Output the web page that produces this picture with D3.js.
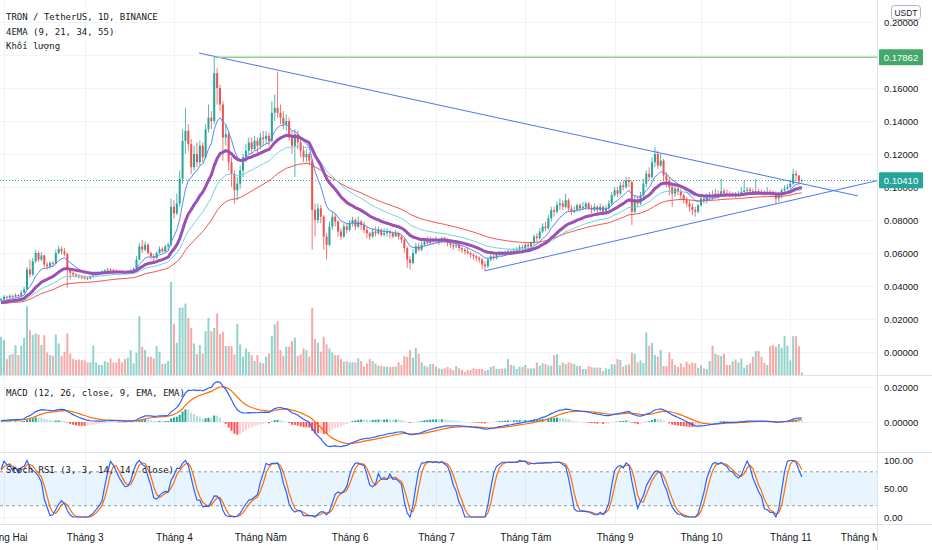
<!DOCTYPE html>
<html>
<head>
<meta charset="utf-8">
<title>TRON / TetherUS 1D</title>
<script src="https://cdnjs.cloudflare.com/ajax/libs/d3/7.8.5/d3.min.js"></script>
<style>
  body { margin: 0; background: #fff; }
  svg { display: block; }
</style>
</head>
<body>
<div id="chart"></div>
<script>
// daily candles TRX/USDT (Binance), first candle is 31 Jan 2021
var firstDay = Date.UTC(2021, 0, 31);
var DAY = 864e5;

var closes = [
  .0320,.0335,.0330,.0340,.0335,.0345,.0340,.0360,.0380,.0500,
  .0470,.0550,.0600,.0560,.0585,.0530,.0520,.0540,.0535,.0600,
  .0625,.0610,.0595,.0500,.0480,.0470,.0462,.0456,.0452,.0448,
  .0445,.0455,.0465,.0472,.0480,.0488,.0495,.0500,.0498,.0492,
  .0488,.0485,.0483,.0480,.0488,.0495,.0505,.0560,.0640,.0620,
  .0650,.0600,.0580,.0570,.0600,.0625,.0610,.0640,.0650,.0880,
  .0840,.0900,.1050,.1280,.1340,.1260,.1120,.1200,.1150,.1250,
  .1180,.1350,.1420,.1400,.1690,.1600,.1500,.1300,.1320,.1150,
  .1080,.0980,.1020,.1100,.1180,.1220,.1270,.1230,.1280,.1250,
  .1300,.1290,.1310,.1280,.1450,.1480,.1450,.1420,.1380,.1400,
  .1300,.1250,.1320,.1270,.1220,.1180,.1200,.1160,.0860,.0800,
  .0870,.0820,.0700,.0650,.0760,.0820,.0790,.0730,.0700,.0760,
  .0740,.0780,.0800,.0760,.0790,.0770,.0740,.0720,.0700,.0730,
  .0720,.0740,.0710,.0720,.0730,.0720,.0700,.0720,.0700,.0680,
  .0630,.0560,.0540,.0600,.0640,.0620,.0650,.0670,.0660,.0680,
  .0670,.0680,.0670,.0690,.0670,.0660,.0650,.0640,.0650,.0630,
  .0620,.0610,.0600,.0590,.0580,.0570,.0560,.0530,.0520,.0560,
  .0580,.0570,.0590,.0600,.0590,.0600,.0610,.0600,.0615,.0620,
  .0635,.0630,.0650,.0640,.0660,.0700,.0690,.0730,.0760,.0750,
  .0810,.0860,.0850,.0890,.0900,.0880,.0920,.0870,.0850,.0860,
  .0890,.0870,.0880,.0900,.0870,.0860,.0880,.0860,.0880,.0850,
  .0870,.0900,.0950,.0980,.0960,.1010,.1000,.1040,.1030,.0850,
  .0920,.0900,.0950,.1020,.1080,.1060,.1150,.1200,.1130,.1160,
  .1070,.1040,.1000,.0960,.0990,.0970,.0950,.0920,.0900,.0880,
  .0860,.0850,.0890,.0930,.0920,.0940,.0950,.0940,.0960,.0950,
  .0975,.0962,.0955,.0950,.0956,.0948,.0958,.0970,.0978,.0985,
  .0975,.0968,.0975,.0966,.0962,.0958,.0964,.0958,.0955,.0930,
  .0950,.0980,.0990,.1000,.1020,.1080,.1070,.1035,.1041
];

var highs = [
  .0330,.0345,.0342,.0350,.0348,.0355,.0352,.0375,.0395,.0515,
  .0560,.0570,.0620,.0610,.0605,.0590,.0545,.0550,.0550,.0620,
  .0645,.0640,.0630,.0600,.0510,.0490,.0480,.0472,.0468,.0462,
  .0458,.0462,.0472,.0480,.0488,.0495,.0502,.0510,.0508,.0504,
  .0500,.0496,.0492,.0490,.0495,.0502,.0512,.0580,.0660,.0680,
  .0670,.0660,.0610,.0595,.0610,.0640,.0635,.0650,.0665,.0930,
  .0920,.0960,.1100,.1350,.1480,.1380,.1290,.1250,.1270,.1280,
  .1270,.1380,.1500,.1460,.17862,.1720,.1620,.1520,.1380,.1340,
  .1180,.1100,.1060,.1130,.1200,.1260,.1300,.1300,.1310,.1300,
  .1330,.1340,.1340,.1330,.1520,.1560,.1700,.1500,.1460,.1440,
  .1420,.1340,.1350,.1340,.1290,.1250,.1230,.1210,.1170,.0900,
  .0900,.0890,.0830,.0720,.0790,.0850,.0840,.0800,.0750,.0780,
  .0780,.0800,.0820,.0810,.0820,.0800,.0790,.0760,.0730,.0750,
  .0760,.0760,.0750,.0750,.0750,.0740,.0730,.0740,.0730,.0710,
  .0690,.0640,.0580,.0620,.0660,.0660,.0670,.0690,.0700,.0700,
  .0690,.0700,.0690,.0700,.0700,.0690,.0670,.0670,.0670,.0660,
  .0640,.0630,.0630,.0610,.0600,.0590,.0580,.0570,.0550,.0570,
  .0600,.0590,.0600,.0610,.0610,.0615,.0620,.0620,.0630,.0635,
  .0650,.0650,.0660,.0660,.0670,.0710,.0720,.0750,.0780,.0790,
  .0830,.0880,.0880,.0910,.0930,.0920,.0960,.0930,.0890,.0880,
  .0900,.0900,.0910,.0910,.0910,.0890,.0900,.0890,.0900,.0890,
  .0890,.0920,.0970,.1000,.1000,.1030,.1040,.1060,.1060,.1040,
  .0950,.0950,.0970,.1050,.1100,.1120,.1180,.1240,.1220,.1200,
  .1170,.1090,.1060,.1020,.1010,.1010,.0990,.0960,.0940,.0920,
  .0900,.0880,.0900,.0950,.0950,.0960,.0970,.0980,.0990,.0980,
  .1050,.0990,.0985,.0975,.0970,.0970,.0975,.1000,.1040,.1000,
  .1000,.0990,.1050,.0990,.0985,.0980,.1000,.0985,.0980,.0975,
  .0970,.0990,.1010,.1020,.1040,.1110,.1100,.1070,.1050
];

var lows = [
  .0305,.0315,.0320,.0325,.0325,.0330,.0330,.0335,.0355,.0375,
  .0450,.0460,.0540,.0545,.0550,.0515,.0500,.0505,.0515,.0530,
  .0590,.0590,.0580,.0390,.0440,.0455,.0450,.0445,.0442,.0440,
  .0436,.0440,.0450,.0460,.0466,.0474,.0482,.0490,.0488,.0485,
  .0480,.0478,.0476,.0472,.0476,.0482,.0490,.0505,.0555,.0600,
  .0610,.0590,.0560,.0550,.0560,.0595,.0600,.0605,.0615,.0640,
  .0810,.0830,.0880,.1020,.1200,.1220,.1080,.1100,.1120,.1130,
  .1150,.1170,.1330,.1350,.1380,.1500,.1460,.1160,.1250,.1100,
  .1000,.0900,.0920,.0990,.1060,.1150,.1200,.1200,.1220,.1200,
  .1230,.1250,.1260,.1250,.1270,.1400,.1420,.1380,.1350,.1340,
  .1280,.1200,.1060,.1230,.1180,.1150,.1150,.1130,.0620,.0700,
  .0780,.0780,.0620,.0560,.0640,.0740,.0760,.0700,.0680,.0690,
  .0720,.0730,.0760,.0740,.0750,.0740,.0720,.0690,.0680,.0690,
  .0700,.0710,.0700,.0700,.0700,.0690,.0690,.0700,.0680,.0660,
  .0600,.0510,.0500,.0530,.0590,.0610,.0610,.0640,.0650,.0650,
  .0650,.0660,.0650,.0660,.0660,.0640,.0630,.0620,.0630,.0610,
  .0600,.0590,.0590,.0570,.0560,.0550,.0540,.0500,.0495,.0510,
  .0550,.0555,.0560,.0580,.0575,.0585,.0590,.0590,.0595,.0600,
  .0610,.0615,.0620,.0630,.0635,.0650,.0670,.0680,.0720,.0730,
  .0740,.0790,.0820,.0840,.0860,.0860,.0870,.0850,.0830,.0840,
  .0850,.0850,.0860,.0860,.0860,.0840,.0850,.0840,.0850,.0830,
  .0840,.0860,.0890,.0940,.0940,.0950,.0980,.0990,.1000,.0770,
  .0840,.0880,.0890,.0940,.1000,.1040,.1050,.1120,.1110,.1120,
  .1040,.1000,.0950,.0880,.0940,.0950,.0920,.0900,.0880,.0850,
  .0830,.0820,.0840,.0880,.0900,.0900,.0920,.0920,.0930,.0930,
  .0945,.0950,.0945,.0940,.0940,.0935,.0940,.0950,.0960,.0965,
  .0960,.0955,.0960,.0955,.0950,.0945,.0950,.0945,.0940,.0900,
  .0910,.0930,.0970,.0980,.0990,.1010,.1040,.1020,.1030
];

// volume in 10M TRX
var volumes = [
  115,105,48,60,63,90,60,88,112,207,
  135,120,125,122,90,120,68,60,58,122,
  95,58,70,125,65,48,45,47,45,44,
  38,38,88,38,30,30,42,38,50,38,
  38,50,38,48,52,75,35,67,177,85,
  75,55,55,50,87,70,33,35,42,280,
  153,97,203,203,215,172,142,95,63,90,
  65,132,172,132,142,185,123,130,87,87,
  87,62,153,92,55,80,70,60,42,60,
  38,35,55,65,117,152,162,75,57,85,
  85,102,113,57,62,80,75,55,203,108,
  97,70,115,92,80,68,60,60,48,40,
  42,38,38,38,50,42,25,35,48,42,
  35,28,28,25,25,25,25,25,38,30,
  57,55,75,52,82,64,38,28,25,33,
  33,25,20,18,20,24,20,15,27,20,
  15,10,15,15,20,18,18,18,13,15,
  24,27,18,18,20,20,48,30,28,18,
  25,24,30,20,20,20,38,28,35,33,
  29,28,60,62,30,38,33,38,35,33,
  27,27,18,18,27,24,22,22,22,12,
  20,18,32,32,48,45,25,30,32,67,
  64,38,44,36,128,88,96,60,55,75,
  27,27,68,48,30,24,35,24,40,33,
  38,35,22,29,20,18,42,88,64,60,
  57,64,30,30,42,47,38,50,22,30,
  35,55,72,72,55,37,30,87,90,85,
  93,82,117,88,44,117,117,87,8
];

// closes before the visible range (Dec 2020 - Jan 2021), only to warm up the indicators
var warmupCloses = [
  .0310,.0305,.0300,.0295,.0300,.0292,.0290,.0288,.0292,.0295,
  .0300,.0305,.0310,.0308,.0305,.0300,.0290,.0275,.0265,.0260,
  .0262,.0265,.0268,.0270,.0268,.0272,.0280,.0285,.0275,.0270,
  .0275,.0290,.0300,.0295,.0285,.0280,.0285,.0290,.0280,.0275,
  .0270,.0265,.0272,.0278,.0285,.0290,.0288,.0292,.0300,.0295,
  .0290,.0295,.0300,.0305,.0300,.0298,.0302,.0310,.0305,.0312
];

var monthLabels = ["Tháng Hai", "Tháng 3", "Tháng 4", "Tháng Năm", "Tháng 6", "Tháng 7",
  "Tháng Tám", "Tháng 9", "Tháng 10", "Tháng 11", "Tháng Mười Hai"];
var priceTicks = [0, .02, .04, .06, .08, .10, .12, .14, .16, .18, .20];
var priceLabels = [0, .02, .04, .06, .08, .10, .12, .14, .16, .20];   // 0.18 sits under the line badge
var macdTicks = [0, .02];
var stochTicks = [0, 50, 100];
var emaLengths = [9, 21, 34, 55];
var legendLines = ["TRON / TetherUS, 1D, BINANCE", "4EMA (9, 21, 34, 55)", "Khối lượng"];

// drawn lines: [day index from 31 Jan, price]
var upperTrend = [[68.7, .1812], [297.5, .0946]];
var lowerTrend = [[167.7, .0491], [323.2, .1115]];
var resistance = { from: 74, price: .17862 };

// ---------- indicators ----------
function ema(vals, n) {
  var k = 2 / (n + 1), prev, out = [];
  vals.forEach(function(v, i) {
    prev = i === 0 ? v : v * k + prev * (1 - k);
    out.push(prev);
  });
  return out;
}
function sma(vals, n) {
  return vals.map(function(v, i) {
    return d3.mean(vals.slice(Math.max(0, i - n + 1), i + 1));
  });
}
function rsi(vals, n) {
  var out = [50], up = 0, down = 0;
  for (var i = 1; i < vals.length; i++) {
    var ch = vals[i] - vals[i - 1];
    var u = Math.max(ch, 0), d = Math.max(-ch, 0);
    if (i <= n) { up += u / n; down += d / n; }
    else { up = (up * (n - 1) + u) / n; down = (down * (n - 1) + d) / n; }
    out.push(down === 0 ? 100 : 100 - 100 / (1 + up / down));
  }
  return out;
}
function stoch(vals, n) {
  return vals.map(function(v, i) {
    var w = vals.slice(Math.max(0, i - n + 1), i + 1);
    var lo = d3.min(w), hi = d3.max(w);
    return hi === lo ? 50 : 100 * (v - lo) / (hi - lo);
  });
}

var allCloses = warmupCloses.concat(closes);
var skip = warmupCloses.length;
var emas = emaLengths.map(function(n) { return ema(allCloses, n).slice(skip); });

var macdAll = d3.zip(ema(allCloses, 12), ema(allCloses, 26)).map(function(p) { return p[0] - p[1]; });
var signalAll = ema(macdAll, 9);
var macd = macdAll.slice(skip);
var signal = signalAll.slice(skip);
var hist = macdAll.map(function(m, i) { return m - signalAll[i]; });

var kAll = sma(stoch(rsi(allCloses, 14), 14), 3);
var dAll = sma(kAll, 3);
var stochK = kAll.slice(skip);
var stochD = dAll.slice(skip);

var candles = closes.map(function(c, i) {
  var o = i === 0 ? warmupCloses[skip - 1] : closes[i - 1];
  return {
    date: new Date(firstDay + i * DAY),
    open: o, close: c,
    high: Math.max(highs[i], o, c),
    low: Math.min(lows[i], o, c),
    volume: volumes[i]
  };
});

// ---------- layout ----------
var svgWidth = 932, svgHeight = 550;
var plotRight = 877;
var pricePane = { top: 0, bottom: 375 };
var macdPane = { top: 376, bottom: 452 };
var stochPane = { top: 453, bottom: 524 };

var green = "#26a69a", red = "#ef5350";
var emaColors = ["#5a88f2", "#9c4fb5", "#6fd3da", "#f0544f"];
var emaWidths = [1, 3, 1, 1];
var lineBlue = "#4a78f0";
var sansFont = "'Liberation Sans', Arial, sans-serif";

var svg = d3.select("#chart")
  .append("svg")
  .attr("width", svgWidth)
  .attr("height", svgHeight)
  .style("background", "#fff");

var x = d3.scaleUtc()
  .domain([new Date(firstDay - 0.38 * DAY), new Date(firstDay + 304.1 * DAY)])
  .range([0, plotRight]);
var y = d3.scaleLinear().domain([0, 0.2]).range([352, 22]);
var yVol = d3.scaleLinear().domain([0, d3.max(volumes)]).range([pricePane.bottom, 282]);
var yMacd = d3.scaleLinear().domain([0, 0.02]).range([422, 387]);
var yStoch = d3.scaleLinear().domain([0, 100]).range([517, 460.5]);

function dayDate(d) { return new Date(firstDay + d * DAY); }

var defs = svg.append("defs");
function clip(id, top, bottom) {
  defs.append("clipPath").attr("id", id)
    .append("rect").attr("x", 0).attr("y", top).attr("width", plotRight).attr("height", bottom - top);
  return "url(#" + id + ")";
}
var clipPrice = clip("clip-price", pricePane.top, pricePane.bottom);
var clipMacd = clip("clip-macd", macdPane.top, macdPane.bottom);
var clipStoch = clip("clip-stoch", stochPane.top, stochPane.bottom);
var clipTime = clip("clip-time", stochPane.bottom, svgHeight);

var months = d3.utcMonth.range(new Date(Date.UTC(2021, 1, 1)), new Date(Date.UTC(2021, 11, 2)));

// ---------- grid ----------
var grid = svg.append("g").attr("stroke", "#f0f3fa").attr("stroke-width", 1);
grid.selectAll(".vgrid").data(months).enter().append("line")
  .attr("x1", function(d) { return Math.round(x(d)) + 0.5; })
  .attr("x2", function(d) { return Math.round(x(d)) + 0.5; })
  .attr("y1", 0).attr("y2", stochPane.bottom);
grid.selectAll(".pgrid").data(priceTicks).enter().append("line")
  .attr("x1", 0).attr("x2", plotRight)
  .attr("y1", function(d) { return Math.round(y(d)) + 0.5; })
  .attr("y2", function(d) { return Math.round(y(d)) + 0.5; });
grid.selectAll(".mgrid").data(macdTicks).enter().append("line")
  .attr("x1", 0).attr("x2", plotRight)
  .attr("y1", function(d) { return Math.round(yMacd(d)) + 0.5; })
  .attr("y2", function(d) { return Math.round(yMacd(d)) + 0.5; });
grid.selectAll(".sgrid").data([0, 100]).enter().append("line")
  .attr("x1", 0).attr("x2", plotRight)
  .attr("y1", function(d) { return Math.round(yStoch(d)) + 0.5; })
  .attr("y2", function(d) { return Math.round(yStoch(d)) + 0.5; });

// ---------- price pane ----------
var priceG = svg.append("g").attr("clip-path", clipPrice);

// volume
priceG.selectAll(".vol").data(candles).enter().append("rect")
  .attr("x", function(d) { return x(d.date) - 1; })
  .attr("width", 2)
  .attr("y", function(d) { return yVol(d.volume); })
  .attr("height", function(d) { return yVol(0) - yVol(d.volume); })
  .attr("fill", function(d) { return d.close >= d.open ? green : red; })
  .attr("opacity", 0.5);

// current price dotted line
var last = candles[candles.length - 1];
priceG.append("line")
  .attr("x1", 0).attr("x2", plotRight)
  .attr("y1", Math.round(y(last.close)) + 0.5).attr("y2", Math.round(y(last.close)) + 0.5)
  .attr("stroke", green).attr("stroke-dasharray", "1,2");

// candles
var candleG = priceG.selectAll(".candle").data(candles).enter().append("g")
  .attr("fill", function(d) { return d.close >= d.open ? green : red; })
  .attr("stroke", function(d) { return d.close >= d.open ? green : red; });
candleG.append("line")
  .attr("x1", function(d) { return x(d.date); })
  .attr("x2", function(d) { return x(d.date); })
  .attr("y1", function(d) { return y(d.high); })
  .attr("y2", function(d) { return y(d.low); })
  .attr("stroke-width", 0.8);
candleG.append("rect")
  .attr("x", function(d) { return x(d.date) - 1; })
  .attr("width", 2)
  .attr("y", function(d) { return y(Math.max(d.open, d.close)); })
  .attr("height", function(d) { return Math.max(1, Math.abs(y(d.open) - y(d.close))); })
  .attr("stroke", "none");

// EMAs, slowest drawn first
var dates = candles.map(function(d) { return d.date; });
[3, 2, 0, 1].forEach(function(k) {
  priceG.append("path")
    .datum(emas[k])
    .attr("fill", "none")
    .attr("stroke", emaColors[k])
    .attr("stroke-width", emaWidths[k])
    .attr("stroke-linejoin", "round")
    .attr("d", d3.line().x(function(v, i) { return x(dates[i]); }).y(function(v) { return y(v); }));
});

// drawings
var trendLine = d3.line().x(function(p) { return x(dayDate(p[0])); }).y(function(p) { return y(p[1]); });
priceG.append("path").datum(upperTrend).attr("d", trendLine)
  .attr("stroke", lineBlue).attr("stroke-width", 1).attr("fill", "none");
priceG.append("path").datum(lowerTrend).attr("d", trendLine)
  .attr("stroke", lineBlue).attr("stroke-width", 1).attr("fill", "none");
priceG.append("line")
  .attr("x1", x(dayDate(resistance.from))).attr("x2", plotRight)
  .attr("y1", y(resistance.price)).attr("y2", y(resistance.price))
  .attr("stroke", "#8fd08f").attr("stroke-width", 1.5);

// ---------- MACD pane ----------
var macdG = svg.append("g").attr("clip-path", clipMacd);
macdG.selectAll(".hist").data(candles).enter().append("rect")
  .attr("x", function(d) { return x(d.date) - 1; })
  .attr("width", 2)
  .attr("y", function(d, i) { var h = hist[i + skip]; return h >= 0 ? yMacd(h) : yMacd(0); })
  .attr("height", function(d, i) { return Math.abs(yMacd(hist[i + skip]) - yMacd(0)); })
  .attr("fill", function(d, i) {
    var h = hist[i + skip], p = hist[i + skip - 1];
    if (h >= 0) return p < h ? "#26a69a" : "#b2dfdb";
    return p < h ? "#ffcdd2" : "#ff5252";
  });
var seriesLine = function(scale) {
  return d3.line().x(function(v, i) { return x(dates[i]); }).y(function(v) { return scale(v); });
};
macdG.append("path").datum(signal).attr("d", seriesLine(yMacd))
  .attr("fill", "none").attr("stroke", "#ff6d00").attr("stroke-width", 1.2);
macdG.append("path").datum(macd).attr("d", seriesLine(yMacd))
  .attr("fill", "none").attr("stroke", "#2962ff").attr("stroke-width", 1.2);

// ---------- Stoch RSI pane ----------
var stochG = svg.append("g").attr("clip-path", clipStoch);
stochG.append("rect")
  .attr("x", 0).attr("width", plotRight)
  .attr("y", yStoch(80)).attr("height", yStoch(20) - yStoch(80))
  .attr("fill", "rgba(33,150,243,0.1)");
stochG.selectAll(".band").data([80, 20]).enter().append("line")
  .attr("x1", 0).attr("x2", plotRight)
  .attr("y1", function(d) { return yStoch(d); }).attr("y2", function(d) { return yStoch(d); })
  .attr("stroke", "#9598a1").attr("stroke-dasharray", "3,3");
stochG.append("path").datum(stochD).attr("d", seriesLine(yStoch))
  .attr("fill", "none").attr("stroke", "#ff6d00").attr("stroke-width", 1.2);
stochG.append("path").datum(stochK).attr("d", seriesLine(yStoch))
  .attr("fill", "none").attr("stroke", "#2962ff").attr("stroke-width", 1.2);

// ---------- separators ----------
var sep = svg.append("g").attr("stroke", "#e0e3eb").attr("stroke-width", 1);
[pricePane.bottom, macdPane.bottom, stochPane.bottom].forEach(function(v) {
  sep.append("line").attr("x1", 0).attr("x2", svgWidth).attr("y1", v + 0.5).attr("y2", v + 0.5);
});
sep.append("line").attr("x1", plotRight + 0.5).attr("x2", plotRight + 0.5).attr("y1", 0).attr("y2", svgHeight);

// ---------- axes ----------
function styleAxis(g, size) {
  g.select(".domain").remove();
  g.selectAll("text")
    .attr("fill", "#131722")
    .attr("font-family", sansFont)
    .attr("font-size", size);
}
svg.append("g")
  .attr("transform", "translate(" + plotRight + ",0)")
  .call(d3.axisRight(y).tickValues(priceLabels).tickFormat(d3.format(".5f")).tickSize(0).tickPadding(7))
  .call(styleAxis, 9.5);
svg.append("g")
  .attr("transform", "translate(" + plotRight + ",0)")
  .call(d3.axisRight(yMacd).tickValues(macdTicks).tickFormat(d3.format(".5f")).tickSize(0).tickPadding(7))
  .call(styleAxis, 9.5);
svg.append("g")
  .attr("transform", "translate(" + plotRight + ",0)")
  .call(d3.axisRight(yStoch).tickValues(stochTicks).tickFormat(d3.format(".2f")).tickSize(0).tickPadding(7))
  .call(styleAxis, 9.5);
svg.append("g")
  .attr("clip-path", clipTime)
  .append("g")
  .attr("transform", "translate(0," + stochPane.bottom + ")")
  .call(d3.axisBottom(x).tickValues(months).tickFormat(function(d, i) { return monthLabels[i]; })
    .tickSize(0).tickPadding(10))
  .call(styleAxis, 10);

// ---------- price badges ----------
function badge(price, color) {
  var g = svg.append("g").attr("transform", "translate(" + (plotRight + 2) + "," + y(price) + ")");
  g.append("rect").attr("x", 0).attr("y", -8).attr("width", 44).attr("height", 16)
    .attr("rx", 1).attr("fill", color);
  g.append("text").attr("x", 22).attr("dy", "0.35em").attr("text-anchor", "middle")
    .attr("fill", "#fff").attr("font-size", 9.5)
    .attr("font-family", sansFont)
    .text(d3.format(".5f")(price));
}
badge(resistance.price, "#43a869");
badge(last.close, last.close >= last.open ? green : red);

// USDT box
var unit = svg.append("g");
unit.append("rect").attr("x", 891.5).attr("y", 5.5).attr("width", 29).attr("height", 14)
  .attr("rx", 3).attr("fill", "#fff").attr("stroke", "#b2b5be");
unit.append("text").attr("x", 906).attr("y", 15.5).attr("text-anchor", "middle")
  .attr("font-size", 8.5).attr("fill", "#131722")
  .attr("font-family", sansFont)
  .text("USDT");

// ---------- legends ----------
var mono = "'DejaVu Sans Mono', 'Liberation Mono', monospace";
svg.selectAll(".legend").data(legendLines).enter().append("text")
  .attr("x", 6).attr("y", function(d, i) { return 20 + i * 14.5; })
  .attr("font-family", mono).attr("font-size", 9).attr("fill", "#131722")
  .text(function(d) { return d; });
svg.append("text").attr("x", 6).attr("y", 396)
  .attr("font-family", mono).attr("font-size", 9).attr("fill", "#131722")
  .text("MACD (12, 26, close, 9, EMA, EMA)");
svg.append("text").attr("x", 6).attr("y", 473)
  .attr("font-family", mono).attr("font-size", 9).attr("fill", "#131722")
  .text("Stoch RSI (3, 3, 14, 14, close)");
</script>
</body>
</html>
